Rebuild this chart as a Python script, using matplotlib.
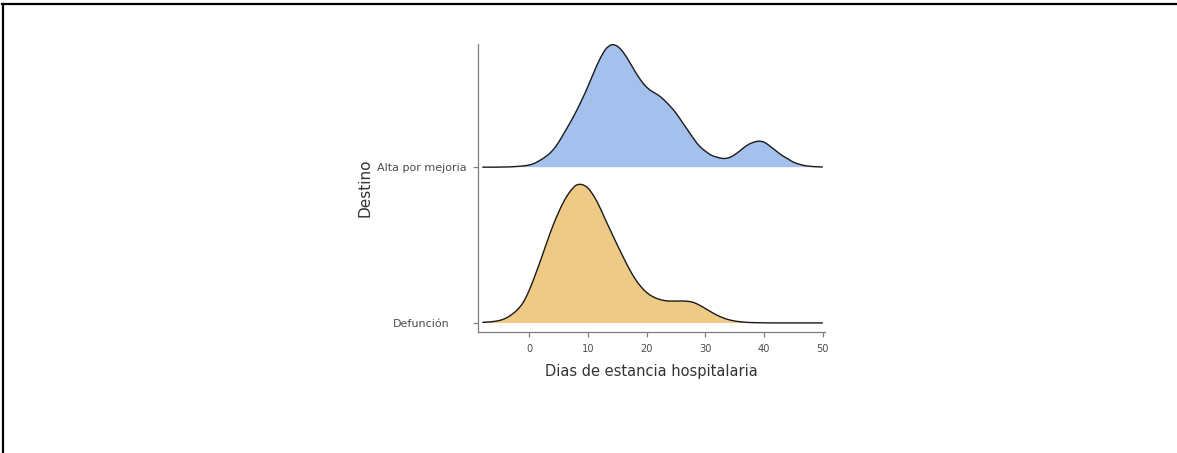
import numpy as np
import matplotlib.pyplot as plt
from matplotlib.lines import Line2D
from matplotlib.path import Path
from matplotlib.patches import PathPatch

plt.rcParams['font.family'] = ['DejaVu Sans']

# dias de estancia (rejilla de 1 dia)
dias = list(range(-8, 51))

# altura de la densidad de cada grupo sobre la rejilla (unidades relativas)
dens_alta = [0, 0, 0, 0.1, 0.2, 0.4, 0.8, 1.3, 2.2, 4.2,
             7.5, 11.5, 17, 25, 35, 45, 56, 68, 81, 95,
             108, 118, 122.5, 121, 115, 106, 96, 87, 80, 75.5,
             72, 67, 61, 54, 45.5, 37, 28.5, 21, 16, 12,
             10, 8.7, 9.5, 12.5, 17, 21.5, 24.5, 26, 25, 21,
             16.5, 12, 8.5, 5, 3, 1.5, 0.8, 0.4, 0.2]
dens_defuncion = [0.7, 1.0, 1.6, 2.7, 4.8, 8.5, 13.5, 21, 33, 48,
                  64, 81, 97, 111, 123, 132, 138, 138.5, 135, 127,
                  116, 103, 90.5, 78, 66, 54.5, 44.5, 36.5, 30.5, 26.5,
                  24, 22.5, 22, 22, 22, 21.7, 20.5, 17.8, 14.5, 11,
                  7.8, 5.2, 3.3, 2, 1.2, 0.7, 0.4, 0.3, 0.2, 0.1,
                  0.1, 0.1, 0.1, 0.1, 0.1, 0.1, 0.1, 0.1, 0.1]

grupos = ['Defunción', 'Alta por mejoria']
colores = ['#EFCA87', '#A4C0EC']
escala = 1 / 156.0


def ruta_suave(x, y):
    # curva de Catmull-Rom que pasa por los puntos, como beziers cubicas
    p = np.column_stack([x, y])
    ext = np.vstack([p[0], p, p[-1]])
    verts = [p[0]]
    codes = [Path.MOVETO]
    for i in range(len(p) - 1):
        p0, p1, p2, p3 = ext[i], ext[i + 1], ext[i + 2], ext[i + 3]
        verts += [p1 + (p2 - p0) / 6, p2 - (p3 - p1) / 6, p2]
        codes += [Path.CURVE4] * 3
    return verts, codes


fig = plt.figure(figsize=(11.77, 4.53), dpi=100)
ax = fig.add_axes([478 / 1177, 121 / 453, 347 / 1177, 288 / 453])

x = np.array(dias, dtype=float)
# la cresta de arriba se dibuja primero
for i, dens in reversed(list(enumerate([dens_defuncion, dens_alta]))):
    y = i + np.array(dens) * escala
    verts, codes = ruta_suave(x, y)
    relleno = Path(verts + [(x[-1], i), (x[0], i), (x[0], i)],
                   codes + [Path.LINETO, Path.LINETO, Path.CLOSEPOLY])
    z = 2 + (1 - i) * 2
    ax.add_patch(PathPatch(relleno, facecolor=colores[i], lw=0, zorder=z))
    ax.add_patch(PathPatch(Path(verts, codes), fill=False,
                           edgecolor='#1a1a1a', lw=1.0, zorder=z + 1))

ax.set_xlim(-8.74, 50.37)
ax.set_ylim(-9 / 156, 279.3 / 156)
ax.set_xticks([0, 10, 20, 30, 40, 50])
ax.set_yticks([0, 1])
ax.set_yticklabels(grupos, ha='center')

for s in ['top', 'right']:
    ax.spines[s].set_visible(False)
for s in ['left', 'bottom']:
    ax.spines[s].set_color('#7f7f7f')
    ax.spines[s].set_linewidth(0.9)

ax.tick_params(axis='x', colors='#7f7f7f', labelcolor='#4d4d4d',
               labelsize=7.1, length=3.5, width=0.9, pad=5)
ax.tick_params(axis='y', colors='#7f7f7f', labelcolor='#4d4d4d',
               labelsize=8, length=3.5, width=0.9, pad=37)

ax.set_xlabel('Dias de estancia hospitalaria', fontsize=10.5, color='#333333', labelpad=7.5)
ax.set_ylabel('Destino', fontsize=11, color='#333333')
ax.yaxis.set_label_coords(-0.304, 0.5)

# marco de la figura (solo izquierda y arriba)
fig.add_artist(Line2D([3 / 1177, 3 / 1177], [0, 1 - 3.5 / 453],
                      transform=fig.transFigure, color='black', lw=1.6))
fig.add_artist(Line2D([2 / 1177, 1], [1 - 4 / 453, 1 - 4 / 453],
                      transform=fig.transFigure, color='black', lw=1.6))

fig.savefig('out.png', dpi=100)
